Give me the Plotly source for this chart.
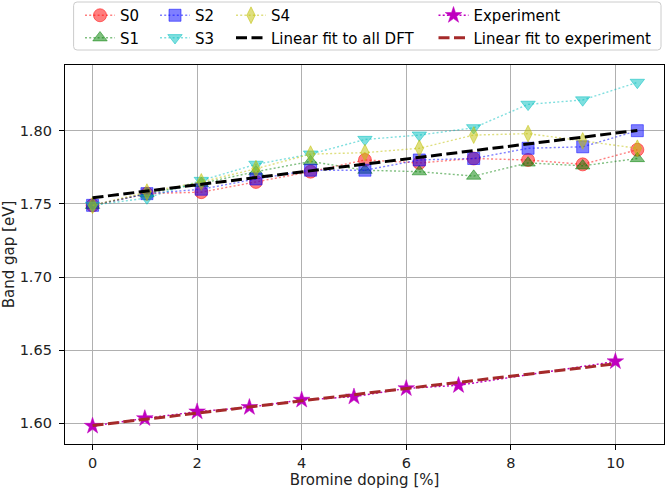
import numpy as np
import plotly.graph_objects as go

# ---- data ----
doping_dft = [0, 1.04, 2.08, 3.125, 4.17, 5.21, 6.25, 7.29, 8.33, 9.375, 10.42]
s0 = [1.749, 1.757, 1.758, 1.765, 1.772, 1.780, 1.778, 1.781, 1.780, 1.777, 1.787]
s1 = [1.749, 1.757, 1.764, 1.772, 1.779, 1.773, 1.772, 1.769, 1.778, 1.776, 1.781]
s2 = [1.749, 1.757, 1.760, 1.767, 1.773, 1.773, 1.780, 1.781, 1.788, 1.789, 1.800]
s3 = [1.749, 1.754, 1.766, 1.777, 1.784, 1.794, 1.797, 1.802, 1.818, 1.821, 1.833]
s4 = [1.749, 1.758, 1.765, 1.774, 1.784, 1.785, 1.788, 1.797, 1.798, 1.793, 1.788]

doping_exp = [0, 1, 2, 3, 4, 5, 6, 7, 10]
exp_gap = [1.5982, 1.6034, 1.6080, 1.6110, 1.6160, 1.6182, 1.6239, 1.6260, 1.6423]

x_ticks = [0, 2, 4, 6, 8, 10]
y_ticks = [1.60, 1.65, 1.70, 1.75, 1.80]

series_names = ["S0", "S1", "S2", "S3", "S4"]
series_vals = [s0, s1, s2, s3, s4]

# ---- styles ----
FONT = "DejaVu Sans"
W, H = 666, 490
ML, MR, MT, MB = 65, 2, 65, 46

styles = {
    "S0": dict(rgb=(255, 0, 0), symbol="circle", size=13, legend="legend"),
    "S1": dict(rgb=(0, 128, 0), symbol="triangle-up", size=12.5, legend="legend"),
    "S2": dict(rgb=(0, 0, 255), symbol="square", size=12, legend="legend2"),
    "S3": dict(rgb=(0, 191, 191), symbol="triangle-down", size=12.5, legend="legend2"),
    "S4": dict(rgb=(191, 191, 0), symbol="diamond-tall", size=12, legend="legend3"),
}


def rgba(rgb, a):
    return "rgba(%d,%d,%d,%.2f)" % (rgb[0], rgb[1], rgb[2], a)


fig = go.Figure()

for name, vals in zip(series_names, series_vals):
    st = styles[name]
    fig.add_trace(go.Scatter(
        x=doping_dft, y=vals, name=name, mode="lines+markers",
        line=dict(color=rgba(st["rgb"], 0.5), width=1.4, dash="2px,2.2px"),
        marker=dict(symbol=st["symbol"], size=st["size"],
                    color=rgba(st["rgb"], 0.5),
                    line=dict(color=rgba(st["rgb"], 0.5), width=1)),
        legend=st["legend"],
    ))

# linear fit to all DFT data
all_x = np.concatenate([np.asarray(doping_dft)] * len(series_vals))
all_y = np.concatenate([np.asarray(v) for v in series_vals])
k_dft, b_dft = np.polyfit(all_x, all_y, 1)
fx_dft = np.array([min(doping_dft), max(doping_dft)])
fig.add_trace(go.Scatter(
    x=fx_dft, y=k_dft * fx_dft + b_dft, name="Linear fit to all DFT",
    mode="lines", line=dict(color="black", width=3, dash="11px,4.5px"),
    legend="legend3",
))

# experiment
fig.add_trace(go.Scatter(
    x=doping_exp, y=exp_gap, name="Experiment", mode="lines+markers",
    line=dict(color="#bf00bf", width=1.4, dash="2px,2.2px"),
    marker=dict(symbol="star", size=12.5, color="#bf00bf",
                line=dict(color="#bf00bf", width=0.5)),
    legend="legend4",
))

k_exp, b_exp = np.polyfit(doping_exp, exp_gap, 1)
fx_exp = np.array([min(doping_exp), max(doping_exp)])
fig.add_trace(go.Scatter(
    x=fx_exp, y=k_exp * fx_exp + b_exp, name="Linear fit to experiment",
    mode="lines", line=dict(color="#a52a2a", width=3, dash="11px,4.5px"),
    legend="legend4",
))

# ---- layout ----
pw = W - ML - MR
ph = H - MT - MB


def px_x(p):
    return (p - ML) / pw


def px_y(p):
    return (H - MB - p) / ph


leg_common = dict(
    xref="paper", yref="paper", xanchor="left", yanchor="top",
    bgcolor="rgba(0,0,0,0)", borderwidth=0, orientation="v",
    font=dict(family=FONT, size=15, color="black"), tracegroupgap=0,
)
leg_top = px_y(-1)
legend_x = [80, 155, 231, 433.5]

axis_common = dict(
    showline=True, mirror=True, linecolor="black", linewidth=1.3,
    ticks="outside", ticklen=5, tickwidth=1.2, tickcolor="black",
    showgrid=True, gridcolor="#b0b0b0", gridwidth=1.2, zeroline=False,
    tickfont=dict(family=FONT, size=14.5, color="#222"),
)

# rounded legend frame
x0, x1 = px_x(73.6), px_x(661)
y0, y1 = px_y(50), px_y(2)
rx, ry = 3.5 / pw, 3.5 / ph
path = (f"M{x0+rx},{y0} L{x1-rx},{y0} Q{x1},{y0} {x1},{y0+ry} "
        f"L{x1},{y1-ry} Q{x1},{y1} {x1-rx},{y1} L{x0+rx},{y1} "
        f"Q{x0},{y1} {x0},{y1-ry} L{x0},{y0+ry} Q{x0},{y0} {x0+rx},{y0} Z")

fig.update_layout(
    width=W, height=H,
    margin=dict(l=ML, r=MR, t=MT, b=MB, autoexpand=False),
    paper_bgcolor="white", plot_bgcolor="white",
    font=dict(family=FONT, size=15, color="#222"),
    showlegend=True,
    legend=dict(x=px_x(legend_x[0]), y=leg_top, **leg_common),
    legend2=dict(x=px_x(legend_x[1]), y=leg_top, **leg_common),
    legend3=dict(x=px_x(legend_x[2]), y=leg_top, **leg_common),
    legend4=dict(x=px_x(legend_x[3]), y=leg_top, **leg_common),
    xaxis=dict(range=[-0.527, 10.93], tickvals=x_ticks,
               title=dict(text="Bromine doping [%]", standoff=4,
                          font=dict(family=FONT, size=15, color="#222")),
               **axis_common),
    yaxis=dict(range=[1.5859, 1.8449], tickvals=y_ticks, tickformat=".2f",
               ticklabelstandoff=4,
               title=dict(text="Band gap [eV]", standoff=8,
                          font=dict(family=FONT, size=15, color="#222")),
               **axis_common),
    shapes=[dict(type="path", xref="paper", yref="paper", path=path,
                 line=dict(color="#cccccc", width=1),
                 fillcolor="rgba(255,255,255,0.8)", layer="below")],
)

fig.write_html(
    "out.html",
    config={"displayModeBar": False},
    post_script="document.body.style.margin='0px';document.body.style.overflow='hidden';",
)
